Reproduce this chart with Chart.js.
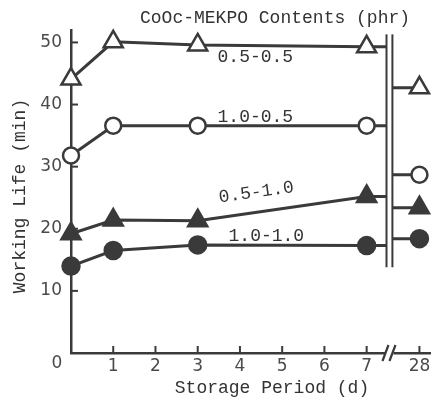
<!DOCTYPE html>
<html>
<head>
<meta charset="utf-8">
<script src="https://cdn.jsdelivr.net/npm/chart.js@4"></script>
<style>
  html, body { margin: 0; padding: 0; background: #fff; }
  #wrap { width: 435px; height: 400px; }
</style>
</head>
<body>
<div id="wrap"><canvas id="life"></canvas></div>
<script>
// storage days plotted on the first (linear) part of the axis
const days = [0, 1, 3, 7];
const lateDay = 28;
const xTickLabels = ["1", "2", "3", "4", "5", "6", "7", "28"];
const yTicks = [10, 20, 30, 40, 50];

// working life (min) per CoOc-MEKPO content, days 0..7, then day 28
const seriesNames = ["0.5-0.5", "1.0-0.5", "0.5-1.0", "1.0-1.0"];
const life05_05 = [44.1, 50.1, 49.6, 49.3];
const life10_05 = [31.8, 36.6, 36.6, 36.6];
const life05_10 = [19.2, 21.4, 21.3, 25.2];
const life10_10 = [14.0, 16.5, 17.4, 17.3];
const lifeDay28 = [42.7, 28.7, 23.4, 18.4];

// axis break: day 28 is drawn after the // gap
const breakLeft = 7.47;
const breakRight = 7.61;
const pos28 = 8.25;

const ink = "#3a3a3a";
const mono = "'Liberation Mono', 'DejaVu Sans Mono', monospace";
const sans = "'DejaVu Sans', sans-serif";

function makePoints(vals, late) {
  const pts = days.map((d, i) => ({ x: d, y: vals[i] }));
  pts.push({ x: breakLeft, y: vals[vals.length - 1] });
  pts.push({ x: (breakLeft + breakRight) / 2, y: null });
  pts.push({ x: breakRight, y: late });
  pts.push({ x: pos28, y: late });
  return pts;
}

function makeSet(label, vals, late, style, r, filled) {
  const radii = [r, r, r, r, 0, 0, 0, r];
  return {
    label: label,
    data: makePoints(vals, late),
    borderColor: ink,
    borderWidth: 3,
    pointStyle: style,
    pointRadius: radii,
    pointHoverRadius: radii,
    pointBorderWidth: 2.5,
    pointBorderColor: ink,
    pointBackgroundColor: filled ? ink : "#fff",
    spanGaps: false,
    tension: 0,
    clip: false,
  };
}

const decor = {
  id: "decor",
  afterDatasetsDraw(chart) {
    const ctx = chart.ctx;
    const xs = chart.scales.x;
    const ys = chart.scales.y;
    const x0 = xs.getPixelForValue(0);
    const yb = ys.getPixelForValue(0);

    ctx.save();
    ctx.strokeStyle = ink;
    ctx.lineWidth = 2;

    // inner tick marks
    yTicks.forEach((v) => {
      const y = ys.getPixelForValue(v);
      ctx.beginPath();
      ctx.moveTo(x0, y);
      ctx.lineTo(x0 + 7, y);
      ctx.stroke();
    });
    xs.ticks.forEach((t) => {
      const x = xs.getPixelForValue(t.value);
      ctx.beginPath();
      ctx.moveTo(x, yb);
      ctx.lineTo(x, yb - 7);
      ctx.stroke();
    });

    // double break line through the plot
    const top = ys.getPixelForValue(51.3);
    const bot = ys.getPixelForValue(13.8);
    [breakLeft, breakRight].forEach((v) => {
      const x = xs.getPixelForValue(v);
      ctx.beginPath();
      ctx.moveTo(x, top);
      ctx.lineTo(x, bot);
      ctx.stroke();
    });

    // // on the x axis
    const bx = xs.getPixelForValue((breakLeft + breakRight) / 2);
    ctx.fillStyle = "#fff";
    ctx.fillRect(bx - 4, yb - 3, 8, 6);
    ctx.lineWidth = 2.2;
    [-4, 3].forEach((dx) => {
      ctx.beginPath();
      ctx.moveTo(bx + dx - 3, yb + 8);
      ctx.lineTo(bx + dx + 3, yb - 8);
      ctx.stroke();
    });

    // texts
    ctx.fillStyle = "#333";
    ctx.font = "18px " + mono;
    ctx.textBaseline = "middle";
    ctx.textAlign = "left";
    ctx.fillText("CoOc-MEKPO Contents (phr)", 140, 18);

    ctx.textAlign = "center";
    ctx.fillText("Storage Period (d)", 272, 388);

    ctx.save();
    ctx.translate(20, 196);
    ctx.rotate(-Math.PI / 2);
    ctx.fillText("Working Life (min)", 0, 0);
    ctx.restore();

    ctx.font = "17px " + sans;
    ctx.fillStyle = "#4a4a4a";
    ctx.textAlign = "center";
    ctx.fillText("0", x0 - 14, yb + 11);

    // series labels along their lines
    ctx.font = "18px " + mono;
    ctx.fillStyle = "#333";
    ctx.textAlign = "left";
    const anchors = [
      [3.47, 47.6, 0],
      [3.47, 37.9, 0],
      [3.5, 25.0, -0.14],
      [3.73, 18.8, 0],
    ];
    anchors.forEach((a, i) => {
      ctx.save();
      ctx.translate(xs.getPixelForValue(a[0]), ys.getPixelForValue(a[1]));
      ctx.rotate(a[2]);
      ctx.fillText(seriesNames[i], 0, 0);
      ctx.restore();
    });

    ctx.restore();
  },
};

new Chart(document.getElementById("life"), {
  type: "line",
  data: {
    datasets: [
      makeSet(seriesNames[0], life05_05, lifeDay28[0], "triangle", 11, false),
      makeSet(seriesNames[1], life10_05, lifeDay28[1], "circle", 8, false),
      makeSet(seriesNames[2], life05_10, lifeDay28[2], "triangle", 11, true),
      makeSet(seriesNames[3], life10_10, lifeDay28[3], "circle", 8.5, true),
    ],
  },
  options: {
    responsive: true,
    maintainAspectRatio: false,
    animation: false,
    events: [],
    layout: {
      autoPadding: false,
      padding: { top: 30, right: 5, left: 0, bottom: 0 },
    },
    plugins: {
      legend: { display: false },
      tooltip: { enabled: false },
    },
    scales: {
      x: {
        type: "linear",
        min: 0,
        max: 8.5,
        afterFit: (s) => { s.height = 47; },
        afterBuildTicks: (s) => {
          s.ticks = [1, 2, 3, 4, 5, 6, 7, pos28].map((v) => ({ value: v }));
        },
        grid: { display: false, drawTicks: false },
        border: { display: true, color: ink, width: 2.5 },
        ticks: {
          padding: 3,
          color: "#4a4a4a",
          font: { family: sans, size: 17 },
          maxRotation: 0,
          autoSkip: false,
          callback: (v, i) => xTickLabels[i],
        },
      },
      y: {
        min: 0,
        max: 52,
        afterFit: (s) => { s.width = 71; },
        afterBuildTicks: (s) => {
          s.ticks = yTicks.map((v) => ({ value: v }));
        },
        grid: { display: false, drawTicks: false },
        border: { display: true, color: ink, width: 2.5 },
        ticks: {
          padding: 9,
          color: "#4a4a4a",
          font: { family: sans, size: 17 },
        },
      },
    },
  },
  plugins: [decor],
});
</script>
</body>
</html>
